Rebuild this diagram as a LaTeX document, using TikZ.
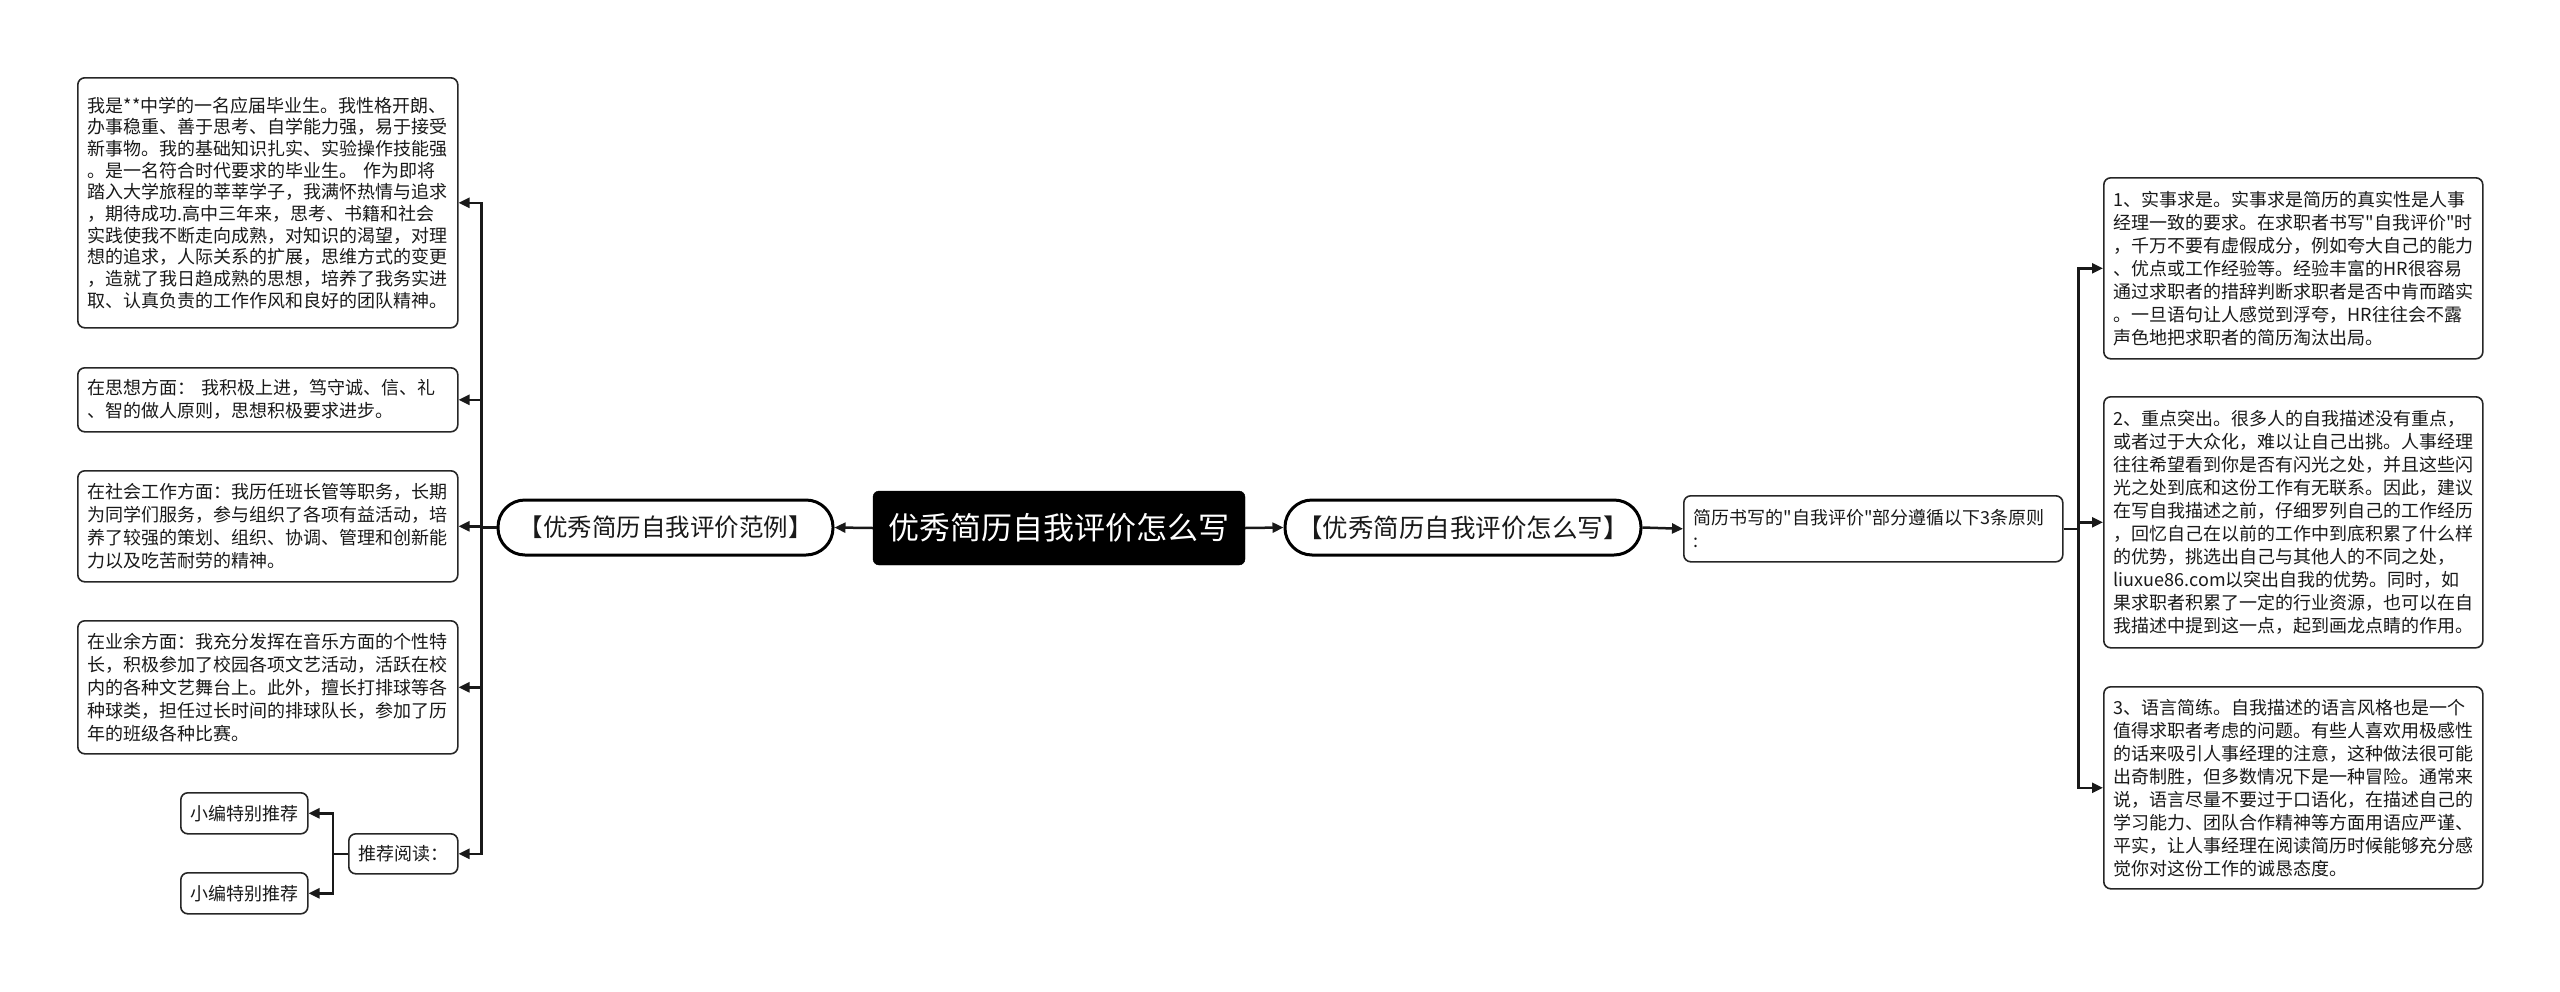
\documentclass[tikz,border=0pt]{standalone}
\usepackage{fontspec}
\setmainfont{Noto Sans CJK SC}[Ligatures=TeXOff]
\usetikzlibrary{arrows.meta}
\begin{document}
\begin{tikzpicture}[x=1pt,y=-1pt,
  tbox/.style={draw=black!85, line width=1.6pt, rounded corners=7pt, anchor=north west,
    inner xsep=10pt, inner ysep=0pt, align=left, text=black!90,
    font=\fontsize{18}{23}\selectfont},
  cbox/.style={draw=black!85, line width=1.6pt, rounded corners=7pt, anchor=north west,
    inner xsep=4pt, inner ysep=0pt, align=center, text=black!90,
    font=\fontsize{18}{23}\selectfont},
  stad/.style={draw=black, line width=3pt, rounded corners=27pt, minimum height=55pt,
    inner sep=0pt, text=black!90},
  conn/.style={line width=2.5pt, draw=black!90, -{Triangle[length=11pt,width=10pt]}}
]
\useasboundingbox (0,0) rectangle (2560,991);

% central node
\node[fill=black, draw=black, rounded corners=6pt, minimum width=372pt, minimum height=74pt,
  text=white, font=\fontsize{31}{36}\selectfont, inner sep=0pt] (main) at (1059,528) {优秀简历自我评价怎么写};

\node[stad, minimum width=335pt, font=\fontsize{24.5}{28}\selectfont] (lstad) at (665.5,527.5) {【优秀简历自我评价范例】};
\node[stad, minimum width=356pt, font=\fontsize{25.5}{28}\selectfont] (rstad) at (1463,527.5) {【优秀简历自我评价怎么写】};

\node[tbox, minimum width=379pt, minimum height=66pt, text width=359pt] (rule) at (1683,495)
  {简历书写的"自我评价"部分遵循以下3条原则\\:};

% right boxes
\node[tbox, minimum width=379pt, minimum height=181pt, text width=359pt] (R1) at (2103,177)
  {1、实事求是。实事求是简历的真实性是人事\\
   经理一致的要求。在求职者书写"自我评价"时\\
   ，千万不要有虚假成分，例如夸大自己的能力\\
   、优点或工作经验等。经验丰富的HR很容易\\
   通过求职者的措辞判断求职者是否中肯而踏实\\
   。一旦语句让人感觉到浮夸，HR往往会不露\\
   声色地把求职者的简历淘汰出局。};
\node[tbox, minimum width=379pt, minimum height=251pt, text width=359pt] (R2) at (2103,396)
  {2、重点突出。很多人的自我描述没有重点，\\
   或者过于大众化，难以让自己出挑。人事经理\\
   往往希望看到你是否有闪光之处，并且这些闪\\
   光之处到底和这份工作有无联系。因此，建议\\
   在写自我描述之前，仔细罗列自己的工作经历\\
   ，回忆自己在以前的工作中到底积累了什么样\\
   的优势，挑选出自己与其他人的不同之处，\\
   liuxue86.com以突出自我的优势。同时，如\\
   果求职者积累了一定的行业资源，也可以在自\\
   我描述中提到这一点，起到画龙点睛的作用。};
\node[tbox, minimum width=379pt, minimum height=202pt, text width=359pt] (R3) at (2103,686)
  {3、语言简练。自我描述的语言风格也是一个\\
   值得求职者考虑的问题。有些人喜欢用极感性\\
   的话来吸引人事经理的注意，这种做法很可能\\
   出奇制胜，但多数情况下是一种冒险。通常来\\
   说，语言尽量不要过于口语化，在描述自己的\\
   学习能力、团队合作精神等方面用语应严谨、\\
   平实，让人事经理在阅读简历时候能够充分感\\
   觉你对这份工作的诚恳态度。};

% left boxes
\node[tbox, minimum width=380pt, minimum height=250pt, text width=360pt,
  font=\fontsize{18}{21.7}\selectfont] (L1) at (77,77)
  {我是**中学的一名应届毕业生。我性格开朗、\\
   办事稳重、善于思考、自学能力强，易于接受\\
   新事物。我的基础知识扎实、实验操作技能强\\
   。是一名符合时代要求的毕业生。 作为即将\\
   踏入大学旅程的莘莘学子，我满怀热情与追求\\
   ，期待成功.高中三年来，思考、书籍和社会\\
   实践使我不断走向成熟，对知识的渴望，对理\\
   想的追求，人际关系的扩展，思维方式的变更\\
   ，造就了我日趋成熟的思想，培养了我务实进\\
   取、认真负责的工作作风和良好的团队精神。};
\node[tbox, minimum width=380pt, minimum height=64pt, text width=360pt] (L2) at (77,367)
  {在思想方面： 我积极上进，笃守诚、信、礼\\
   、智的做人原则，思想积极要求进步。};
\node[tbox, minimum width=380pt, minimum height=111pt, text width=360pt] (L3) at (77,470)
  {在社会工作方面：我历任班长管等职务，长期\\
   为同学们服务，参与组织了各项有益活动，培\\
   养了较强的策划、组织、协调、管理和创新能\\
   力以及吃苦耐劳的精神。};
\node[tbox, minimum width=380pt, minimum height=133pt, text width=360pt] (L4) at (77,620)
  {在业余方面：我充分发挥在音乐方面的个性特\\
   长，积极参加了校园各项文艺活动，活跃在校\\
   内的各种文艺舞台上。此外，擅长打排球等各\\
   种球类，担任过长时间的排球队长，参加了历\\
   年的班级各种比赛。};

\node[cbox, minimum width=109pt, minimum height=40pt] (rec) at (348,833) {推荐阅读：};
\node[cbox, minimum width=127pt, minimum height=41pt] (x1) at (180,792) {小编特别推荐};
\node[cbox, minimum width=127pt, minimum height=41pt] (x2) at (180,872) {小编特别推荐};

% connectors
\draw[conn] (main.west) -- (lstad.east);
\draw[conn] (main.east) -- (rstad.west);
\draw[conn] (rstad.east) -- (rule.west);
\foreach \n in {R1,R2,R3} \draw[conn] (rule.east) -- ++(15,0) |- (\n.west);
\foreach \n in {L1,L2,L3,L4,rec} \draw[conn] (lstad.west) -- ++(-15,0) |- (\n.east);
\foreach \n in {x1,x2} \draw[conn] (rec.west) -- ++(-15,0) |- (\n.east);
\end{tikzpicture}
\end{document}
